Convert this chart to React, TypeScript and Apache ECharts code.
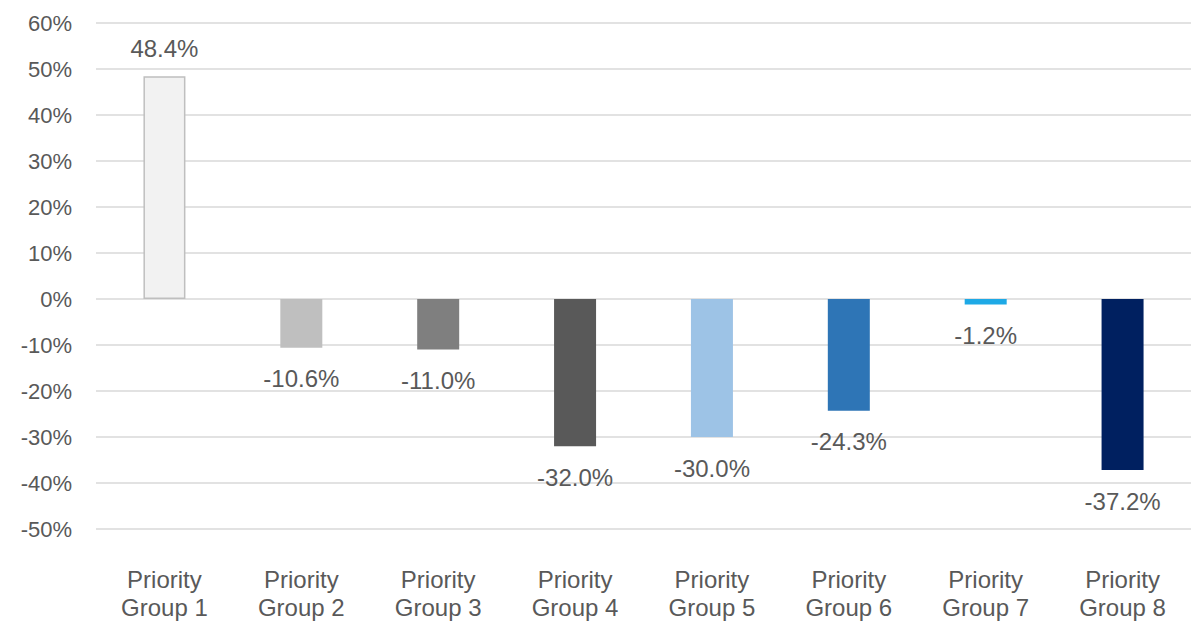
import React, { useEffect, useRef } from "react";
import * as echarts from "echarts";

const categories = [
  "Priority\nGroup 1",
  "Priority\nGroup 2",
  "Priority\nGroup 3",
  "Priority\nGroup 4",
  "Priority\nGroup 5",
  "Priority\nGroup 6",
  "Priority\nGroup 7",
  "Priority\nGroup 8",
];
const values = [48.4, -10.6, -11.0, -32.0, -30.0, -24.3, -1.2, -37.2];
const barColors = ["#f2f2f2", "#bfbfbf", "#7f7f7f", "#595959", "#9dc3e6", "#2e75b6", "#1ea9e6", "#002060"];
const yMin = -50;
const yMax = 60;
const yStep = 10;

const FONT = "'Liberation Sans', Arial, sans-serif";

export default function App() {
  const ref = useRef<HTMLDivElement>(null);
  useEffect(() => {
    if (!ref.current) return;
    const chart = echarts.init(ref.current, null, { renderer: "svg" });
    chart.setOption({
      animation: false,
      grid: { left: 88, right: 0, top: 15, bottom: 94 },
      xAxis: {
        type: "category",
        data: categories,
        position: "bottom",
        axisLine: { show: false },
        axisTick: { show: false },
        axisLabel: {
          color: "#595959",
          fontFamily: FONT,
          fontSize: 24,
          lineHeight: 28,
          margin: 36,
          interval: 0,
        },
      },
      yAxis: {
        type: "value",
        min: yMin,
        max: yMax,
        interval: yStep,
        axisLine: { show: false },
        axisTick: { show: false },
        splitLine: { lineStyle: { color: "#d9d9d9", width: 1.5 } },
        axisLabel: {
          color: "#595959",
          fontFamily: FONT,
          fontSize: 22,
          margin: 24,
          formatter: (v: number) => `${v}%`,
        },
      },
      series: [
        {
          type: "bar",
          barWidth: 42,
          data: values.map((v, i) => ({
            value: v,
            itemStyle: {
              color: barColors[i],
              borderColor: i === 0 ? "#bfbfbf" : barColors[i],
              borderWidth: i === 0 ? 1.5 : 0,
            },
            label: {
              show: true,
              position: v >= 0 ? "top" : "bottom",
              distance: v >= 0 ? 16 : 19,
            },
          })),
          label: {
            color: "#595959",
            fontFamily: FONT,
            fontSize: 24,
            formatter: (p: any) => `${p.value.toFixed(1)}%`,
          },
        },
      ],
    });
    return () => chart.dispose();
  }, []);
  return <div ref={ref} style={{ width: 1183, height: 615 }} />;
}
